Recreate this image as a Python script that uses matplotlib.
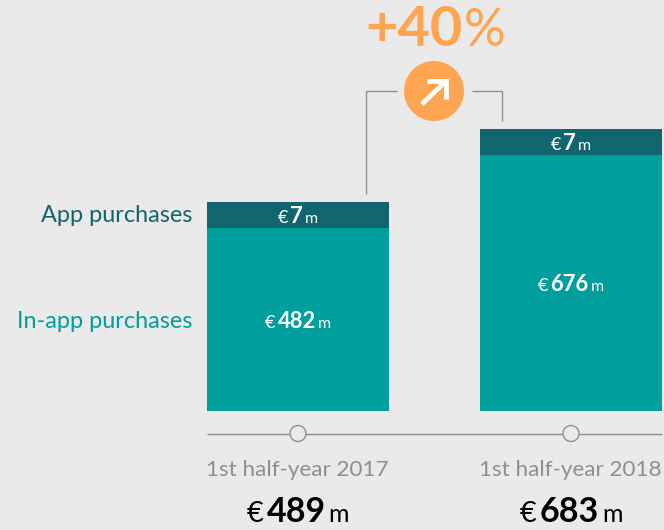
import matplotlib
matplotlib.use('Agg')
import matplotlib.pyplot as plt

periods = ['1st half-year 2017', '1st half-year 2018']
in_app = [482, 676]
app = [7, 7]
totals = [489, 683]
growth = '+40'

# app segment is not to scale in the original, it has a fixed drawn height
app_drawn = [69, 69]

BG = '#EAEAEA'
TEAL = '#009E9C'
DARK = '#11656F'
ORANGE = '#FFA551'
GREY = '#8F8F8F'

plt.rcParams['font.family'] = 'Lato'

W, H = 664, 530
fig = plt.figure(figsize=(W / 100, H / 100), dpi=100, facecolor=BG)

# bars axes, full figure, the scale puts 0 at pixel row 411
ax = fig.add_axes([0, 0, 1, 1])
px_per_unit = 256 / 676
step = 273
ax.set_xlim(-298 / step, (W - 298) / step)
ax.set_ylim(-(H - 411) / px_per_unit, 411 / px_per_unit)
ax.axis('off')
xs = range(len(periods))
ax.bar(xs, in_app, width=182 / step, color=TEAL, linewidth=0)
ax.bar(xs, app_drawn, bottom=in_app, width=182 / step, color=DARK, linewidth=0)

# overlay in pixels for the decoration and the text
ov = fig.add_axes([0, 0, 1, 1], facecolor='none')
ov.set_xlim(0, W)
ov.set_ylim(H, 0)
ov.axis('off')


def px(v):
    return v * 0.72


def money(cx, y, parts, sizes, color, gap=3):
    # row of pieces with mixed weights, centred on cx, y is the baseline
    r = fig.canvas.get_renderer()
    items = []
    total = 0
    for (s, weight), size in zip(parts, sizes):
        t = ov.text(0, y, s, fontsize=px(size), fontweight=weight, color=color, va='baseline', ha='left')
        w = t.get_window_extent(r).width
        items.append((t, w))
        total += w
    total += gap * (len(items) - 1)
    x = cx - total / 2
    for t, w in items:
        t.set_x(x)
        x += w + gap


line_kw = dict(color=GREY, lw=1.0, solid_joinstyle='miter', solid_capstyle='butt')

# bracket around the growth badge
ov.plot([366, 366, 397], [194, 91, 91], **line_kw)
ov.plot([472, 502, 502], [91, 91, 121], **line_kw)
ov.add_patch(plt.Circle((434, 91), 30, color=ORANGE, lw=0))
ov.plot([422, 445], [104, 82], color='white', lw=3.4, solid_capstyle='butt')
ov.plot([427, 446, 446], [81, 81, 99], color='white', lw=3.4, solid_joinstyle='miter', solid_capstyle='butt')

money(435, 45.5, [(growth, 'bold'), ('%', 'normal')], [56, 52], ORANGE, gap=1)

# time axis
ov.plot([207, 662], [433.5, 433.5], **line_kw)
for i, cx in zip(xs, [298, 571]):
    ov.add_patch(plt.Circle((cx, 433.5), 8, facecolor=BG, edgecolor=GREY, lw=1.0, zorder=3))
    ov.text(cx - 0.5, 469.5, periods[i], fontsize=px(22.5), color=GREY, ha='center', va='center')
    money(cx, 522, [('€', 'normal'), (str(totals[i]), 'bold'), ('m', 'normal')], [29, 34, 25], 'black', gap=3)

# segment labels
for i, cx in zip(xs, [298, 571]):
    y_in = 411 - in_app[i] * px_per_unit
    money(cx, (411 + y_in) / 2 + 8, [('€', 'normal'), (str(in_app[i]), 'bold'), ('m', 'normal')], [18, 22, 16], 'white', gap=2)
    money(cx, y_in - 13 + 8, [('€', 'normal'), (str(app[i]), 'bold'), ('m', 'normal')], [18, 22, 16], 'white', gap=2)

# row labels
ov.text(192, 216, 'App purchases', fontsize=px(23.5), color=DARK, ha='right', va='center')
ov.text(192, 321, 'In-app purchases', fontsize=px(23.5), color=TEAL, ha='right', va='center')

fig.savefig('out.png', dpi=100, facecolor=BG)
